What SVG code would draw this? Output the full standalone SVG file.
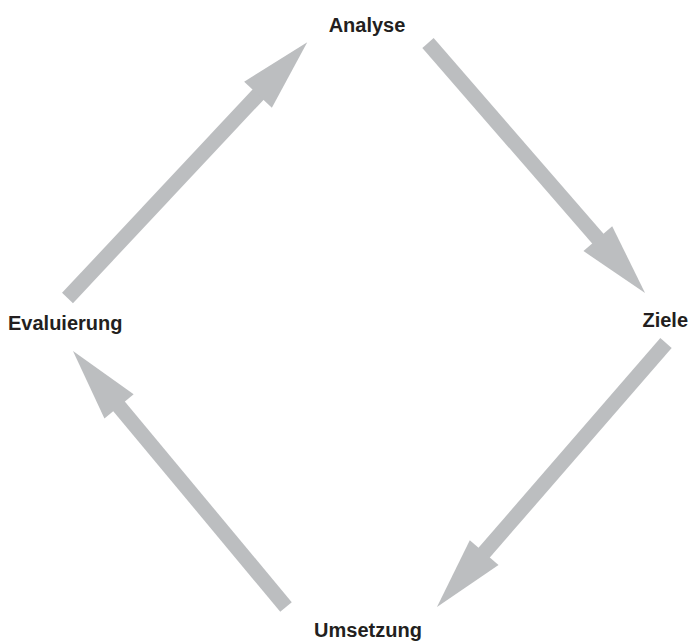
<svg xmlns="http://www.w3.org/2000/svg" width="689" height="642" viewBox="0 0 689 642">
<style>
.lbl{font-family:"Liberation Sans",Arial,sans-serif;font-weight:bold;font-size:20px;fill:#231f20;}
.arr{stroke:#bcbec0;stroke-width:15;fill:none;stroke-linecap:butt;marker-end:url(#head);}
</style>
<defs>
<marker id="head" markerUnits="userSpaceOnUse" markerWidth="80" markerHeight="40" refX="1" refY="19" orient="auto" overflow="visible">
<path d="M0,0 L72,19 L0,38 z" fill="#bcbec0"/>
</marker>
</defs>
<rect width="689" height="642" fill="#ffffff"/>
<g id="connectors">
<line class="arr" x1="67.5" y1="298" x2="258.7" y2="94.0"/>
<line class="arr" x1="428" y1="43" x2="598.5" y2="239.4"/>
<line class="arr" x1="666" y1="343" x2="483.5" y2="553.4"/>
<line class="arr" x1="286" y1="607" x2="118.4" y2="405.6"/>
</g>
<g id="analyse"><text class="lbl" x="367" y="32" text-anchor="middle">Analyse</text></g>
<g id="ziele"><text class="lbl" x="688" y="327" text-anchor="end">Ziele</text></g>
<g id="umsetzung"><text class="lbl" x="368" y="637" text-anchor="middle">Umsetzung</text></g>
<g id="evaluierung"><text class="lbl" x="8" y="330">Evaluierung</text></g>
</svg>
